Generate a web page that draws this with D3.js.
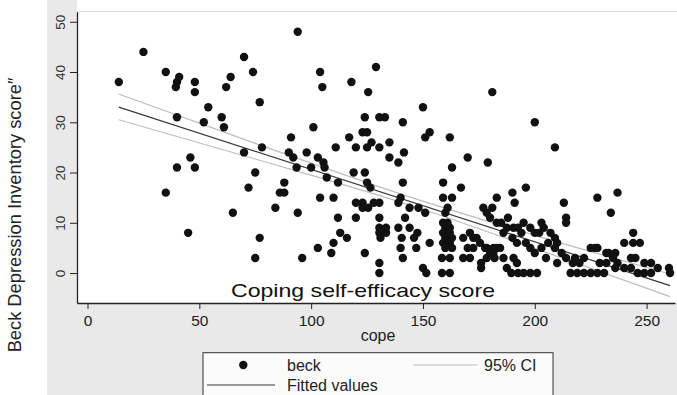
<!DOCTYPE html>
<html>
<head>
<meta charset="utf-8">
<script src="https://cdn.jsdelivr.net/npm/d3@7"></script>
<style>
  body { margin: 0; background: #fff; }
  svg { display: block; font-family: "Liberation Sans", Arial, sans-serif; }
</style>
</head>
<body>
<div class="scatter-chart"></div>
<script>
// cope score (x) and beck score (y), one entry per respondent
const copeScores = [
  14, 25, 35, 41, 40, 39.5, 48, 48, 40, 54, 52, 60, 61, 64, 62, 70, 74, 77, 94, 104, 105, 118, 125.5, 101, 91, 78, 111, 117, 124, 123, 125, 120, 125,
  129, 150, 130.5, 133, 141, 181, 200, 153, 151, 162, 127, 130.5, 135, 209,
  35, 40, 46, 48, 45, 65, 72, 75, 70, 77, 75, 84, 86, 88, 88, 90, 92, 93.5, 94, 96, 98, 100, 103, 105.5, 106, 107, 112, 104, 110, 112, 113, 116, 110, 109, 103, 119, 124, 120, 123, 128, 130.5, 123, 125.5, 120, 124, 125, 126.5,
  141.5, 135, 139, 141, 140, 139, 144, 148, 151, 130.5, 142,
  130.5, 133.5, 130.5, 133.5, 131, 139, 144, 147.5, 130.5, 130.5, 140, 141, 147, 150, 151.5, 140.5, 146, 153,
  159, 161, 160, 162, 159, 162, 160, 163, 159, 162, 160, 163, 158.5, 162, 158.5, 162, 160, 161, 159, 163, 159, 163,
  170, 179, 167, 183, 190, 191, 196, 213, 214, 214, 228, 237, 234, 244, 240, 247, 260, 260.5, 177, 181, 178.5, 180,
  168, 172.5, 168, 171, 170, 175.5, 178.5, 176, 176, 171, 174, 172.5, 177.8, 180, 178.5, 183,
  181.5, 184.5, 181.5, 182, 186, 187.5, 190.5, 192, 189.5, 192.5, 195, 198, 201, 195, 198, 200, 204, 203, 202, 207, 209, 210, 225, 228, 244, 252, 249, 246, 243, 240,
  205, 210, 214, 217, 220, 229, 232, 237, 236, 216, 219, 222, 225, 228, 231, 209, 212, 218, 222, 233, 235,
  187.5, 190.5, 192.5, 185, 188, 183, 186, 190, 194, 196, 198, 192, 200, 203, 206,
  227, 232, 236, 243, 245, 249, 252, 255
];
const beckScores = [
  38, 44, 40, 39, 38, 37, 38, 36, 31, 33, 30, 31, 29, 39, 37, 43, 40, 34, 48, 40, 37, 38, 36, 29, 27, 25, 25, 27, 31, 28, 28, 25, 25,
  41, 33, 31, 31, 30, 36, 30, 28, 27, 27, 26, 25, 26, 25,
  16, 21, 23, 21, 8, 12, 17, 20, 24, 7, 3, 13, 16, 16, 18, 24, 23, 21, 12, 3, 24, 21, 23, 22, 21, 19, 18, 15, 15, 11, 8, 7, 6, 4, 5, 20, 20, 14, 14, 14, 14, 13, 13, 11, 4, 18, 17,
  24, 23, 22, 18, 15, 14, 13, 13, 12, 11, 11,
  9, 9, 8, 8, 7, 9, 9, 8, 2, 0, 5, 3, 5, 1, 0, 7, 7, 6,
  10, 10, 9, 9, 8, 8, 7, 7, 6, 6, 5, 5, 3, 3, 0, 0, 12, 13, 15, 15, 18, 21,
  23, 22, 17, 15, 16, 14, 17, 14, 11, 10, 15, 16, 12, 8, 6, 6, 1, 0, 13, 13, 12, 11,
  7, 7, 3, 3, 5, 6, 5, 2, 1, 8, 7, 5, 5, 4, 3, 5,
  5, 5, 4, 3, 3, 1, 3, 2, 0, 0, 0, 0, 0, 10, 9, 8, 9, 10, 8, 8, 7, 6, 5, 5, 6, 0, 0, 0, 1, 1,
  3, 2, 3, 2, 2, 2, 2, 2, 1, 0, 0, 0, 0, 0, 0, 5, 4, 3, 3, 4, 3,
  9, 9, 9, 10, 11, 10, 8, 7, 8, 6, 5, 6, 4, 5, 6,
  5, 4, 4, 3, 3, 2, 2, 1
];
const xTicks = [0, 50, 100, 150, 200, 250];
const yTicks = [0, 10, 20, 30, 40, 50];
// fitted line and 95% CI
const fitCope = [14, 260.5];
const fitBeck = [33.0, -2.5];
const ciCope = [14, 75, 145, 200, 260.5];
const ciUpper = [35.6, 25.8, 15.0, 7.5, -0.2];
const ciLower = [30.5, 22.7, 13.4, 4.9, -4.7];

const width = 677, height = 395;
const plot = { left: 77, right: 675, top: 11.7, bottom: 303 };

const svg = d3.select('.scatter-chart').append('svg')
  .attr('width', width)
  .attr('height', height);

// outer grey graph region and white plot region
svg.append('rect').attr('x', 0).attr('y', 0).attr('width', width).attr('height', height).attr('fill', '#fff');
svg.append('rect').attr('x', 47).attr('y', 0).attr('width', width - 47).attr('height', height).attr('fill', '#e9e9e9');
svg.append('rect')
  .attr('x', plot.left).attr('y', 0)
  .attr('width', width - plot.left).attr('height', plot.bottom)
  .attr('fill', '#fff');
svg.append('line')
  .attr('x1', plot.left).attr('x2', width).attr('y1', plot.top).attr('y2', plot.top)
  .style('stroke', '#dcdcdc').style('stroke-width', 1);

const xScale = d3.scaleLinear()
  .domain([-4.7, 262.7])
  .range([plot.left, plot.right]);

const yScale = d3.scaleLinear()
  .domain([-5.96, 52])
  .range([plot.bottom, plot.top]);

// axes
const xAxis = svg.append('g')
  .attr('transform', `translate(0, ${plot.bottom})`)
  .call(d3.axisBottom(xScale).tickValues(xTicks).tickSize(6).tickPadding(6).tickSizeOuter(0));
xAxis.select('.domain').attr('stroke', '#222').attr('stroke-width', 1.3);
xAxis.selectAll('.tick line').attr('stroke', '#222');
xAxis.selectAll('.tick text').attr('font-size', 15.5).attr('fill', '#222')
  .attr('font-family', '"Liberation Sans", Arial, sans-serif');

const yAxis = svg.append('g')
  .attr('transform', `translate(${plot.left}, 0)`)
  .call(d3.axisLeft(yScale).tickValues(yTicks).tickSize(7).tickPadding(4).tickSizeOuter(0));
yAxis.select('.domain').attr('stroke', '#222').attr('stroke-width', 1.3);
yAxis.selectAll('.tick line').attr('stroke', '#222');
yAxis.selectAll('.tick text')
  .attr('font-size', 13.5).attr('fill', '#333')
  .attr('font-family', '"Liberation Sans", Arial, sans-serif')
  .attr('x', 0).attr('dy', 0)
  .attr('text-anchor', 'middle')
  .attr('transform', 'translate(-12, 0) rotate(-90)');

// confidence band lines and fitted line
const ciLine = d3.line()
  .x(d => xScale(d[0]))
  .y(d => yScale(d[1]))
  .curve(d3.curveMonotoneX);

svg.append('path')
  .datum(ciCope.map((c, i) => [c, ciUpper[i]]))
  .attr('d', ciLine)
  .style('fill', 'none').style('stroke', '#bdbdbd').style('stroke-width', 1.2);
svg.append('path')
  .datum(ciCope.map((c, i) => [c, ciLower[i]]))
  .attr('d', ciLine)
  .style('fill', 'none').style('stroke', '#bdbdbd').style('stroke-width', 1.2);
svg.append('path')
  .datum(fitCope.map((c, i) => [c, fitBeck[i]]))
  .attr('d', ciLine)
  .style('fill', 'none').style('stroke', '#3a3a3a').style('stroke-width', 1.2);

// points
svg.append('g').selectAll('circle')
  .data(copeScores.map((c, i) => [c, beckScores[i]]))
  .enter()
  .append('circle')
  .attr('cx', d => xScale(d[0]))
  .attr('cy', d => yScale(d[1]))
  .attr('r', 4.2)
  .style('fill', '#111');

// in-plot caption and axis titles
svg.append('text')
  .attr('x', 363).attr('y', 297)
  .attr('text-anchor', 'middle')
  .attr('font-size', 19)
  .attr('textLength', 264).attr('lengthAdjust', 'spacingAndGlyphs')
  .attr('fill', '#111')
  .text('Coping self-efficacy score');

svg.append('text')
  .attr('x', 378).attr('y', 341)
  .attr('text-anchor', 'middle')
  .attr('font-size', 16)
  .attr('fill', '#222')
  .text('cope');

svg.append('text')
  .attr('transform', 'translate(21, 215) rotate(-90)')
  .attr('text-anchor', 'middle')
  .attr('font-size', 18.3)
  .attr('fill', '#222')
  .text('Beck Depression Inventory score\u2033');

// legend
const legend = svg.append('g');
legend.append('rect')
  .attr('x', 203).attr('y', 352.7).attr('width', 350).attr('height', 60)
  .attr('fill', '#fbfbfb').attr('stroke', '#333').attr('stroke-width', 1);
legend.append('circle').attr('cx', 243.3).attr('cy', 365).attr('r', 4.2).style('fill', '#111');
legend.append('text').attr('x', 287).attr('y', 370.5).attr('font-size', 16).attr('fill', '#222').text('beck');
legend.append('line').attr('x1', 413).attr('x2', 477).attr('y1', 365).attr('y2', 365)
  .style('stroke', '#bdbdbd').style('stroke-width', 1.2);
legend.append('text').attr('x', 484).attr('y', 370.5).attr('font-size', 16).attr('fill', '#222').text('95% CI');
legend.append('line').attr('x1', 207).attr('x2', 275).attr('y1', 385).attr('y2', 385)
  .style('stroke', '#3a3a3a').style('stroke-width', 1.2);
legend.append('text').attr('x', 287).attr('y', 390.5).attr('font-size', 16).attr('fill', '#222').text('Fitted values');
</script>
</body>
</html>
